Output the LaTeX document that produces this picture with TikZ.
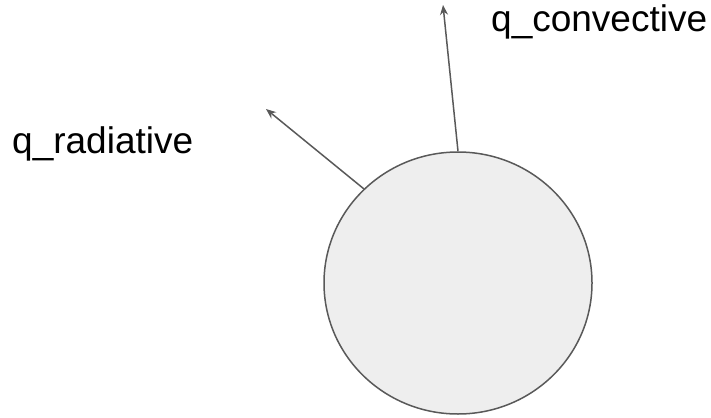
\documentclass[tikz,border=0pt]{standalone}
\usepackage{fontspec}
\setmainfont{Liberation Sans}
\usetikzlibrary{arrows.meta,shapes.geometric}
\definecolor{edge}{HTML}{595959}
\definecolor{ballfill}{HTML}{EEEEEE}
\begin{document}
\begin{tikzpicture}[x=1pt,y=-1pt,
  ballstyle/.style={ellipse,draw=edge,fill=ballfill,line width=1.5pt,minimum width=268pt,minimum height=262pt,inner sep=0pt},
  fluxarrow/.style={draw=edge,line width=1.5pt,-{Stealth[length=10pt,width=8pt]}},
  lbl/.style={font=\fontsize{37pt}{41pt}\selectfont,anchor=base west,inner sep=0pt,text=black}]
\useasboundingbox (0,0) rectangle (711,417);
\node[ballstyle] (ball) at (458,283) {};
\coordinate (tipR) at (266,109);
\coordinate (tipC) at (443,5);
\draw[fluxarrow] (ball.135.6) -- (tipR);
\draw[fluxarrow] (ball.90) -- (tipC);
\node[lbl] (labR) at (12,153) {q\_radiative};
\node[lbl] (labC) at (491,32) {q\_convective};
\end{tikzpicture}
\end{document}
